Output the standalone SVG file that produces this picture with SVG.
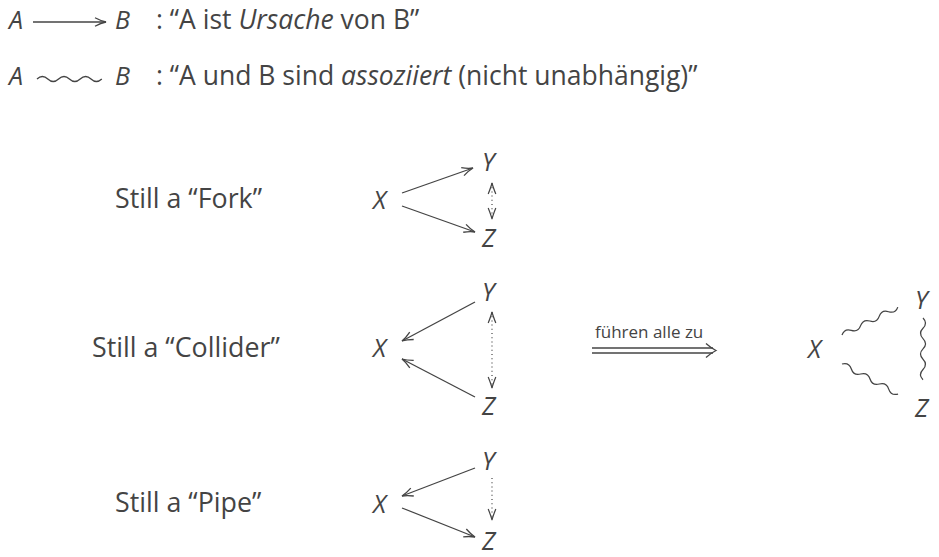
<svg xmlns="http://www.w3.org/2000/svg" width="939" height="557" viewBox="0 0 939 557">
<style>
text{font-family:"Open Sans","Noto Sans",sans-serif;fill:#444;}
.lbl{font-size:26.8px;}
.var{font-size:25px;font-style:italic;}
.leg{font-size:26.5px;}
.small{font-size:17px;}
.ln{fill:none;stroke:#444;stroke-width:1.3;}
.dot{fill:none;stroke:#444;stroke-width:1.2;stroke-dasharray:1 3.2;}
.wv{fill:none;stroke:#444;stroke-width:1.2;}
</style>
<defs>
<marker id="ah" markerUnits="userSpaceOnUse" markerWidth="20" markerHeight="20" refX="0" refY="0" viewBox="-12 -10 14 20" orient="auto">
<path d="M-11,-4.2 Q-5,-1 0,0 Q-5,1 -11,4.2" fill="none" stroke="#444" stroke-width="1.3"/>
</marker>
<marker id="sh" markerUnits="userSpaceOnUse" markerWidth="20" markerHeight="20" refX="0" refY="0" viewBox="-12 -10 14 20" orient="auto-start-reverse">
<path d="M-11,-3.8 Q-4,-1 0,0 Q-4,1 -11,3.8" fill="none" stroke="#444" stroke-width="1.2"/>
</marker>
<path id="wave" d="M0,0 q5,-5 10,0 t10,0 t10,0 t10,0 t10,0 t10,0"/>
</defs>

<g id="legend">
<g id="legend-cause">
<text class="var" x="9" y="29">A</text>
<text class="var" x="115" y="29">B</text>
<text class="leg" x="156" y="29">: “A ist <tspan font-style="italic">Ursache</tspan> von B”</text>
</g>
<g id="legend-assoc">
<text class="var" x="9" y="85">A</text>
<text class="var" x="115" y="85">B</text>
<text class="leg" x="156" y="85">: “A und B sind <tspan font-style="italic">assoziiert</tspan> (nicht unabhängig)”</text>
</g>
</g>

<g id="label-fork"><text class="lbl" x="115" y="208">Still a “Fork”</text></g>
<g id="label-collider"><text class="lbl" x="92" y="357">Still a “Collider”</text></g>
<g id="label-pipe"><text class="lbl" x="115" y="512">Still a “Pipe”</text></g>

<g id="fork-X"><text class="var" x="373" y="209">X</text></g>
<g id="fork-Y"><text class="var" x="482" y="171">Y</text></g>
<g id="fork-Z"><text class="var" x="482" y="247">Z</text></g>

<g id="collider-X"><text class="var" x="373" y="357">X</text></g>
<g id="collider-Y"><text class="var" x="482" y="301">Y</text></g>
<g id="collider-Z"><text class="var" x="482" y="415">Z</text></g>

<g id="pipe-X"><text class="var" x="373" y="513">X</text></g>
<g id="pipe-Y"><text class="var" x="482" y="470">Y</text></g>
<g id="pipe-Z"><text class="var" x="482" y="550">Z</text></g>

<g id="result-X"><text class="var" x="808" y="358">X</text></g>
<g id="result-Y"><text class="var" x="915" y="309">Y</text></g>
<g id="result-Z"><text class="var" x="915" y="417">Z</text></g>

<g id="arrow-label"><text class="small" x="595" y="338">führen alle zu</text></g>

<g id="connectors">
<!-- legend -->
<line class="ln" x1="33" y1="22" x2="106" y2="22" marker-end="url(#ah)"/>
<use href="#wave" class="wv" transform="translate(37,79) scale(1.08,1)"/>

<!-- fork -->
<line class="ln" x1="402" y1="193" x2="473" y2="168" marker-end="url(#ah)"/>
<line class="ln" x1="402" y1="206" x2="475" y2="232" marker-end="url(#ah)"/>
<line class="dot" x1="492" y1="183" x2="492" y2="219" marker-start="url(#sh)" marker-end="url(#sh)"/>

<!-- collider -->
<line class="ln" x1="475" y1="302" x2="402" y2="341" marker-end="url(#ah)"/>
<line class="ln" x1="475" y1="397" x2="402" y2="359" marker-end="url(#ah)"/>
<line class="dot" x1="492" y1="312" x2="492" y2="388" marker-start="url(#sh)" marker-end="url(#sh)"/>

<!-- pipe -->
<line class="ln" x1="475" y1="468" x2="402" y2="496" marker-end="url(#ah)"/>
<line class="ln" x1="402" y1="508" x2="475" y2="537" marker-end="url(#ah)"/>
<line class="dot" x1="492" y1="478" x2="492" y2="520" marker-end="url(#sh)"/>

<!-- implies -->
<line class="ln" x1="592" y1="348" x2="713" y2="348"/>
<line class="ln" x1="592" y1="353" x2="713" y2="353"/>
<path class="ln" d="M706,343.5 Q711,348 716,350.5 Q711,353 706,357.5"/>

<!-- result waves -->
<use href="#wave" class="wv" transform="translate(842,335) rotate(-26.6) scale(1.04,1)"/>
<use href="#wave" class="wv" transform="translate(842,364) rotate(28.2) scale(1.06,1)"/>
<use href="#wave" class="wv" transform="translate(923,318) rotate(90) scale(1.03,1)"/>
</g>
</svg>
